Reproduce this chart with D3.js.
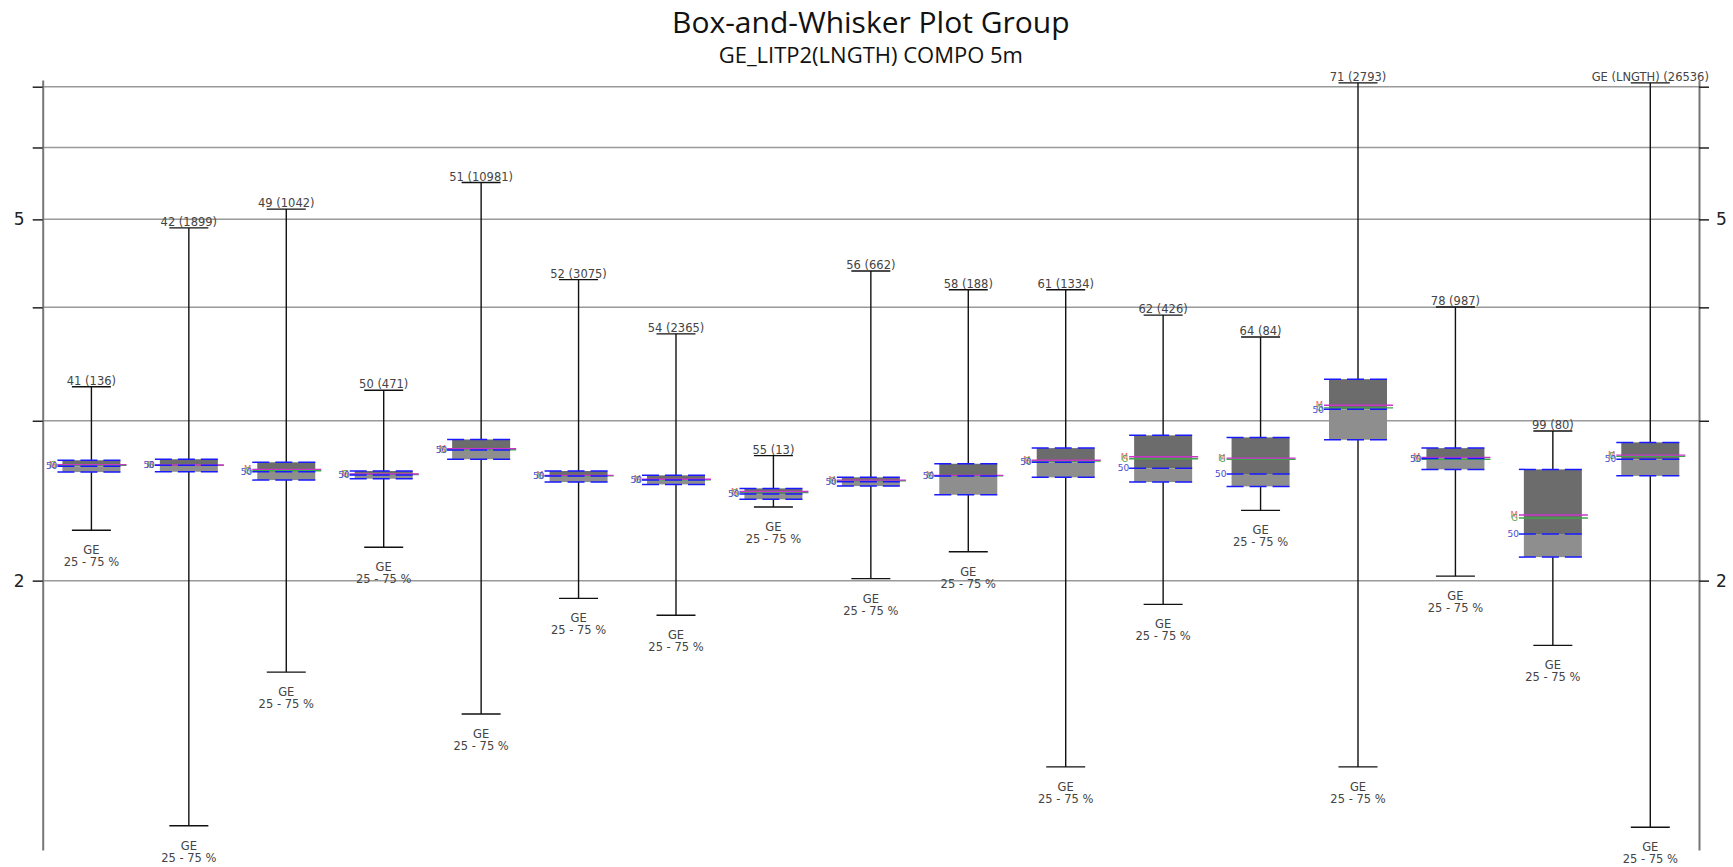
<!DOCTYPE html>
<html>
<head>
<meta charset="utf-8">
<script src="https://cdn.jsdelivr.net/npm/d3@7"></script>
<style>
  html, body { margin: 0; padding: 0; background: #fff; }
  svg { display: block; }
</style>
</head>
<body>
<svg id="chart" width="1733" height="867"></svg>
<script>
// Groups (lithology codes) and sample counts
const categories = ["41","42","49","50","51","52","54","55","56","58","61","62","64","71","78","99","GE (LNGTH)"];
const counts     = [136,1899,1042,471,10981,3075,2365,13,662,188,1334,426,84,2793,987,80,26536];

// Summary statistics per group
const maxValues    = [3.270,4.893,5.132,3.242,5.489,4.291,3.740,2.746,4.387,4.183,4.183,3.922,3.710,7.069,4.003,2.923,7.069];
const q3Values     = [2.714,2.721,2.700,2.641,2.861,2.641,2.612,2.527,2.599,2.690,2.799,2.891,2.876,3.334,2.799,2.652,2.840];
const meanValues   = [2.684,2.682,2.652,2.621,2.794,2.612,2.586,2.507,2.581,2.612,2.714,2.738,2.729,3.120,2.734,2.362,2.750];
const gmeanValues  = [2.680,2.679,2.643,2.618,2.787,2.609,2.583,2.500,2.577,2.609,2.708,2.724,2.721,3.100,2.721,2.344,2.741];
const medianValues = [2.673,2.680,2.636,2.614,2.785,2.608,2.581,2.491,2.570,2.608,2.700,2.659,2.621,3.088,2.727,2.251,2.721];
const q1Values     = [2.634,2.636,2.581,2.590,2.721,2.568,2.553,2.458,2.542,2.487,2.599,2.568,2.540,2.859,2.652,2.123,2.609];
const minValues    = [2.273,1.074,1.586,2.177,1.426,1.912,1.832,2.411,2.010,2.152,1.247,1.883,2.390,1.247,2.023,1.697,1.070];

// Axis ticks
const gridTicks  = [2,3,4,5,6,7];
const labelTicks = [2,5];
const yDomain    = [1.01, 7.12];

const titleText    = "Box-and-Whisker Plot Group";
const subtitleText = "GE_LITP2(LNGTH) COMPO 5m";

const data = categories.map((c, i) => ({
  cat: c, n: counts[i],
  max: maxValues[i], q3: q3Values[i], mean: meanValues[i], gmean: gmeanValues[i],
  median: medianValues[i], q1: q1Values[i], min: minValues[i]
}));

const svg = d3.select("#chart");
const plotLeft = 42.7, plotRight = 1699, plotTop = 80, plotBottom = 850;

const x = d3.scaleBand().domain(categories).range([plotLeft, plotRight]).padding(0);
const y = d3.scaleLog().domain(yDomain).range([plotBottom, plotTop]);

const boxW = 58, capW = 39;
const labelFont = "DejaVu Sans, Verdana, sans-serif";

// Titles
svg.append("text")
  .attr("x", (plotLeft + plotRight) / 2).attr("y", 33)
  .attr("text-anchor", "middle")
  .attr("font-family", "Open Sans, sans-serif")
  .attr("font-size", 30).attr("fill", "#111")
  .text(titleText);
svg.append("text")
  .attr("x", (plotLeft + plotRight) / 2).attr("y", 63)
  .attr("text-anchor", "middle")
  .attr("font-family", "Open Sans, sans-serif")
  .attr("font-size", 22).attr("fill", "#111")
  .text(subtitleText);

// Horizontal grid lines
svg.append("g").selectAll("line").data(gridTicks).join("line")
  .attr("x1", plotLeft).attr("x2", plotRight)
  .attr("y1", d => y(d)).attr("y2", d => y(d))
  .attr("stroke", "#9a9a9a").attr("stroke-width", 1.5);

// Left and right axes
const leftAxis = d3.axisLeft(y).tickValues(gridTicks).tickSizeInner(10).tickSizeOuter(0)
  .tickFormat(d => labelTicks.includes(d) ? String(d) : "").tickPadding(8);
const rightAxis = d3.axisRight(y).tickValues(gridTicks).tickSizeInner(10).tickSizeOuter(0)
  .tickFormat(d => labelTicks.includes(d) ? String(d) : "").tickPadding(7);

function styleAxis(g) {
  g.select(".domain").attr("stroke", "#777").attr("stroke-width", 2);
  g.selectAll(".tick line").attr("stroke", "#222").attr("stroke-width", 1.5);
  g.selectAll(".tick text").attr("font-family", labelFont).attr("font-size", 17).attr("fill", "#222");
}
svg.append("g").attr("transform", `translate(${plotLeft},0)`).call(leftAxis).call(styleAxis);
svg.append("g").attr("transform", `translate(${plotRight},0)`).call(rightAxis).call(styleAxis);

const boxes = svg.append("g").selectAll("g").data(data).join("g")
  .attr("transform", d => `translate(${x(d.cat) + x.bandwidth() / 2},0)`);

// Whisker
boxes.append("line")
  .attr("x1", 0).attr("x2", 0)
  .attr("y1", d => y(d.max)).attr("y2", d => y(d.min))
  .attr("stroke", "#111").attr("stroke-width", 1.4);
// Caps
boxes.append("line")
  .attr("x1", -capW / 2).attr("x2", capW / 2)
  .attr("y1", d => y(d.max)).attr("y2", d => y(d.max))
  .attr("stroke", "#111").attr("stroke-width", 1.4);
boxes.append("line")
  .attr("x1", -capW / 2).attr("x2", capW / 2)
  .attr("y1", d => y(d.min)).attr("y2", d => y(d.min))
  .attr("stroke", "#111").attr("stroke-width", 1.4);

// Box halves: upper quartile (dark) and lower quartile (light)
boxes.append("rect")
  .attr("x", -boxW / 2).attr("width", boxW)
  .attr("y", d => y(d.q3)).attr("height", d => y(d.median) - y(d.q3))
  .attr("fill", "#6c6c6c");
boxes.append("rect")
  .attr("x", -boxW / 2).attr("width", boxW)
  .attr("y", d => y(d.median)).attr("height", d => y(d.q1) - y(d.median))
  .attr("fill", "#8e8e8e");

// Mean and geometric mean lines
boxes.append("line")
  .attr("x1", -boxW / 2 - 5).attr("x2", boxW / 2 + 6)
  .attr("y1", d => y(d.gmean)).attr("y2", d => y(d.gmean))
  .attr("stroke", "#3fa64a").attr("stroke-width", 1.4);
boxes.append("line")
  .attr("x1", -boxW / 2 - 5).attr("x2", boxW / 2 + 6)
  .attr("y1", d => y(d.mean)).attr("y2", d => y(d.mean))
  .attr("stroke", "#c837c8").attr("stroke-width", 1.4);

// Quartile and median dashed lines
["q3", "median", "q1"].forEach(k => {
  boxes.append("line")
    .attr("x1", -boxW / 2 - 5).attr("x2", boxW / 2 + 6)
    .attr("y1", d => y(d[k])).attr("y2", d => y(d[k]))
    .attr("stroke", "#1a1aff").attr("stroke-width", 1.5)
    .attr("stroke-dasharray", "17,6");
});

// Small markers left of the box
boxes.append("text")
  .attr("x", -boxW / 2 - 6).attr("y", d => y(d.mean))
  .attr("text-anchor", "end").attr("dy", "0.35em")
  .attr("font-family", labelFont).attr("font-size", 8.5)
  .attr("fill", "#e06a6a").text("M");
boxes.append("text")
  .attr("x", -boxW / 2 - 6).attr("y", d => y(d.gmean))
  .attr("text-anchor", "end").attr("dy", "0.35em")
  .attr("font-family", labelFont).attr("font-size", 8.5)
  .attr("fill", "#4aa84a").text("G");
boxes.append("text")
  .attr("x", -boxW / 2 - 5).attr("y", d => y(d.median))
  .attr("text-anchor", "end").attr("dy", "0.35em")
  .attr("font-family", labelFont).attr("font-size", 9)
  .attr("fill", "#4b4bd0").text("50");

// Group label above the upper whisker
boxes.append("text")
  .attr("x", 0).attr("y", d => y(d.max) - 2)
  .attr("text-anchor", "middle")
  .attr("font-family", labelFont).attr("font-size", 11.5).attr("fill", "#444")
  .text(d => `${d.cat} (${d.n})`);

// Legend text below the lower whisker
boxes.append("text")
  .attr("x", 0).attr("y", d => y(d.min) + 24)
  .attr("text-anchor", "middle")
  .attr("font-family", labelFont).attr("font-size", 11.5).attr("fill", "#444")
  .text("GE");
boxes.append("text")
  .attr("x", 0).attr("y", d => y(d.min) + 36)
  .attr("text-anchor", "middle")
  .attr("font-family", labelFont).attr("font-size", 11.5).attr("fill", "#444")
  .text("25 - 75 %");
</script>
</body>
</html>
